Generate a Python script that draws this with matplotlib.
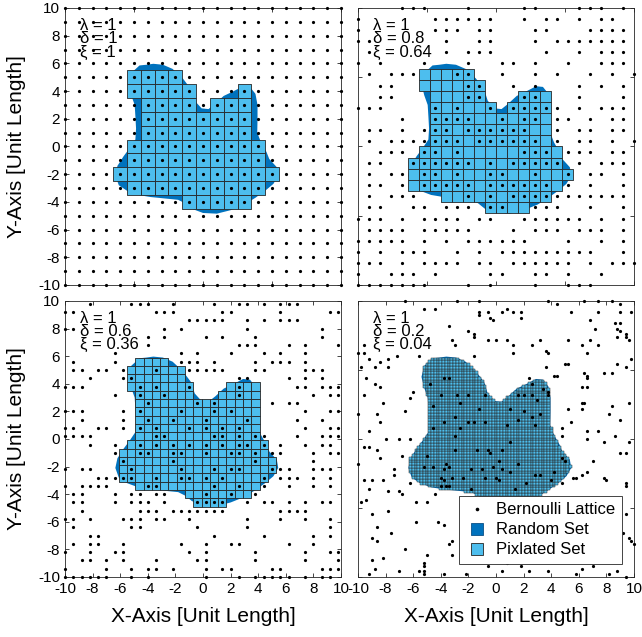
import numpy as np
import matplotlib
matplotlib.use('Agg')
import matplotlib.pyplot as plt
from matplotlib.path import Path
from matplotlib.patches import Polygon, Rectangle
from matplotlib.collections import PatchCollection
from matplotlib.lines import Line2D

plt.rcParams['font.family'] = ['Liberation Sans', 'DejaVu Sans']
plt.rcParams['axes.unicode_minus'] = False

DARK = '#0072BD'
LIGHT = '#4DBEEE'

# outline of the random set (same in every panel)
blob_x = [-3.6, -2.9, -2.2, -1.45, -0.85, -0.6, -0.1, 0.4, 0.9, 1.5, 2.2, 2.9, 3.4,
          3.8, 3.95, 3.95, 3.93, 4.2, 4.6, 4.8, 5.35, 5.45, 5.1, 4.5, 3.8, 3.0, 2.0,
          1.0, 0.0, -0.8, -1.3, -1.8, -2.8, -3.8, -4.7, -5.5, -6.1, -6.35, -6.2,
          -5.75, -5.3, -4.9, -4.85, -4.9, -4.95, -5.2, -5.4, -5.2, -4.6, -4.1]
blob_y = [5.97, 5.9, 5.6, 4.9, 4.1, 3.3, 2.75, 2.7, 3.1, 3.65, 3.98, 4.35, 4.3,
          3.8, 3.0, 2.0, 1.0, 0.3, -0.4, -0.9, -1.5, -2.1, -2.7, -3.2, -3.7, -4.2,
          -4.6, -4.85, -4.8, -4.5, -4.1, -3.85, -3.75, -3.65, -3.5, -3.2, -2.8,
          -2.1, -1.4, -0.7, -0.1, 0.5, 1.3, 2.2, 3.0, 3.7, 4.5, 5.3, 5.85, 5.9]

lam_txt = ['1', '1', '1', '1']
delta = [1, 0.8, 0.6, 0.2]
delta_txt = ['1', '0.8', '0.6', '0.2']
xi_txt = ['1', '0.64', '0.36', '0.04']

# kept lattice columns per row (top row first), delta = 0.8
kept_08 = [
    [4, 5, 6, 10, 15, 16, 20, 21, 22, 24],
    [0, 7, 8, 9, 10, 11, 12, 15, 17, 18, 20, 22, 23],
    [0, 7, 8, 9, 11, 12, 16, 17, 21, 22, 23, 24],
    [0, 1, 8, 11, 12, 16, 18, 19, 20, 21, 22, 23, 24],
    [1, 8, 10, 11, 12, 17, 20, 22, 23, 24],
    [0, 2, 6, 10, 13, 14, 16, 19, 22, 23, 24],
    [1, 3, 4, 5, 9, 10, 13, 16, 18, 21, 23, 25],
    [2, 3, 10, 11, 14, 16, 20, 22, 24],
    [2, 3, 10, 11, 15, 16, 20, 24],
    [0, 1, 2, 7, 9, 12, 14, 15, 16, 17, 18, 20, 22, 23, 24],
    [4, 7, 8, 9, 10, 13, 15, 16, 18, 19, 21, 23, 24],
    [1, 2, 4, 6, 7, 8, 10, 11, 12, 13, 14, 15, 18, 20, 21, 23, 24],
    [1, 3, 4, 5, 6, 7, 8, 9, 11, 12, 13, 14, 15, 16, 18, 20, 21, 23, 25],
    [2, 3, 4, 6, 7, 9, 15, 16, 17, 19, 20, 21, 23, 24],
    [1, 2, 5, 6, 7, 8, 9, 10, 12, 14, 15, 16, 17, 18, 20, 22, 23, 24],
    [1, 3, 4, 6, 7, 9, 12, 13, 16, 19, 21, 22, 24],
    [1, 2, 4, 6, 7, 8, 9, 10, 12, 13, 14, 15, 16, 17, 19, 21, 24],
    [1, 3, 4, 5, 10, 12, 14, 15, 16, 17, 18, 19, 20, 21, 22, 23, 24],
    [1, 2, 5, 6, 8, 9, 10, 12, 13, 16, 17, 18, 21, 24],
    [0, 1, 2, 4, 6, 7, 8, 9, 11, 12, 15, 16, 17, 18, 19, 20, 22, 24],
    [1, 2, 3, 4, 6, 7, 8, 9, 10, 14, 16, 17, 18, 20, 21, 22, 24],
    [0, 1, 2, 3, 4, 6, 8, 10, 11, 12, 13, 14, 15, 19, 22, 24],
    [0, 2, 4, 5, 6, 9, 11, 13, 14, 15, 16, 17, 18, 19, 20, 21, 24],
    [0, 1, 2, 4, 6, 7, 8, 9, 11, 12, 14, 15, 16, 17, 18, 19, 21, 23, 24, 25],
    [0, 3, 4, 5, 7, 12, 13, 16, 17, 19, 22],
    [0, 1, 2, 3, 4, 5, 6, 10, 12, 16, 19, 20, 21],
]

# kept lattice columns per row (top row first), delta = 0.6
kept_06 = [
    [3, 8, 9, 10, 13, 18, 21, 22, 24, 26, 27, 28],
    [0, 1, 11, 12, 13, 19, 20, 26, 32, 33],
    [15, 16, 17, 18, 19, 22, 24, 26, 27, 28],
    [0, 1, 12, 14, 22, 31],
    [10, 12, 17, 19, 23, 31],
    [10, 21, 22, 23, 27, 29, 33],
    [6, 14, 16, 20, 24, 26, 29],
    [1, 6, 14, 15, 16, 18, 23, 25, 26, 27, 29],
    [1, 2, 4, 5, 7, 11, 15, 16, 17, 18, 19, 23, 24, 29, 30, 31],
    [3, 7, 8, 21, 22, 27, 29, 31],
    [0, 1, 2, 9, 11, 15, 21, 28, 29, 31, 32, 33],
    [6, 9, 12, 21, 30, 32, 33],
    [10, 16, 18, 25, 27, 28],
    [0, 1, 2, 7, 9, 14, 18, 20, 29, 32, 33],
    [2, 7, 10, 13, 17, 22, 28, 31],
    [0, 1, 4, 5, 7, 9, 11, 15, 17, 19, 21, 29, 32, 33],
    [0, 1, 2, 3, 11, 12, 18, 19, 21, 23, 24, 28, 31, 32, 33],
    [3, 6, 9, 11, 13, 15, 17, 19, 21, 22, 24, 26, 29, 31, 32],
    [6, 9, 10, 13, 14, 17, 20, 21, 23, 25, 26, 30, 32, 33],
    [7, 13, 23, 30],
    [0, 2, 3, 8, 14, 18, 20, 21, 25, 26, 27, 30, 31, 32],
    [4, 5, 6, 7, 8, 11, 14, 15, 17, 19, 24, 26, 27, 28, 30, 32],
    [0, 2, 3, 4, 5, 10, 11, 18, 21, 24, 27, 30, 32],
    [1, 2, 6, 8, 9, 11, 12, 17, 20, 23],
    [1, 2, 6, 8, 9, 10, 12, 16, 17, 18, 19, 22, 24, 25, 27, 29, 31, 32],
    [2, 9, 10, 11, 13, 14, 15, 16, 17, 18, 19, 26, 27, 28, 29],
    [0, 1, 3, 7, 8, 9, 11, 12, 15, 22, 26, 29, 32],
    [1, 8, 9, 16, 22, 32],
    [3, 4, 18, 24, 30, 32],
    [1, 3, 4, 7, 14, 17, 20, 21, 27, 30],
    [0, 3, 6, 7, 15, 17, 23, 29, 32, 33],
    [2, 3, 5, 7, 11, 16, 17, 23, 29, 33],
    [0, 5, 8, 10, 11, 13, 17, 19, 20, 25, 26, 31, 32, 33],
    [0, 1, 2, 3, 4, 5, 8, 10, 17, 21, 23, 24, 25, 26, 27, 29, 31, 32],
]

# kept lattice points, delta = 0.2
pts_02_x = [-6.6, -2.8, -1.2, 3.8, 4.4, 6.4, 7.4, 8.4, 9.0, -5.2, -4.4, -1.2, -1.2, -0.6,
            -0.4, 0.4, 0.8, 1.2, 1.8, 5.4, 7.4, 9.0, 9.8, -0.2, 1.8, 6.8, 8.6, 9.0, -3.4,
            7.2, 8.8, 9.0, 9.4, -2.0, -1.6, -1.6, -3.2, -0.6, 0.0, 0.8, 3.2, 5.2, 6.8,
            8.8, 9.4, 9.6, -9.6, -3.0, 1.2, 2.6, 3.6, 6.2, 7.4, -10.0, -9.6, -9.2, -8.4,
            -7.8, -7.2, -5.6, -1.6, 1.2, 3.8, 5.0, 5.2, 6.6, 9.8, 9.4, -9.8, -8.8, -7.8,
            3.6, 4.2, 4.4, 6.4, 6.6, 6.6, 7.8, 8.4, 8.8, -9.4, -8.8, -8.4, -6.0, -4.8,
            -3.8, -3.4, 2.4, 2.6, 3.4, 3.8, 6.2, 6.6, -9.6, -8.2, -6.2, -4.0, -2.8, -2.0,
            -0.8, 1.6, 2.0, 2.6, 3.0, 3.8, 6.2, 6.4, 8.4, 9.6, -10.0, -8.6, -6.6, -4.6,
            -2.6, -1.2, 1.0, 2.0, 3.2, 5.2, 6.2, 8.2, 9.0, -8.4, -3.8, -3.0, -2.0, -1.6,
            -0.8, -2.6, 0.8, 1.6, 2.6, 2.8, 5.4, 4.8, 6.6, 7.4, -9.2, -4.6,
            -8.0, -7.0, -6.2, -3.0, 1.0, 4.8, 6.6, 7.8, 8.6, 9.6, -9.6, -9.2, -8.6, -5.0,
            -3.0, -1.4, -0.6, -0.4, 0.4, 9.0, 9.4, -8.4, -6.8, -4.6, -3.6, 0.2, 1.6, 4.8,
            5.0, 7.0, -10.0, -7.4, -7.4, -5.2, -3.8, -3.4, -1.8, -1.0, -0.2, 0.4, 1.0,
            2.8, 3.2, 4.2, 5.6, 6.2, 6.6, -9.6, -9.0, -8.2, -6.2, -4.0, -3.8, -3.2, -2.4,
            -0.8, 0.0, 0.2, 2.2, 4.0, 4.8, 5.8, 7.8, 8.0, 9.4, -9.2, -7.8, -7.0, -6.8,
            -4.4, -4.0, -3.6, -3.4, -1.8, 1.4, 9.4, -9.8, -9.4, -7.8, -5.8, -5.0, -9.0,
            9.4, -8.6, -7.6, -5.8, -4.2, -3.8, 9.2, -9.0, -8.6, -3.4, -3.2, 9.6, 9.8,
            10.0, -6.6, -5.0, -3.2, -9.0, -8.2, -5.2, -5.2, -0.6, 0.8, 1.8, 6.2, 7.0,
            -9.2, -8.8, -7.0, -5.6, -5.2, -5.2, -3.8, -2.2, 0.4, 2.4, 3.8, 5.8, 8.2,
            8.8, 9.4]
pts_02_y = [10.0, 10.0, 10.0, 10.0, 9.8, 10.0, 10.0, 10.0, 9.8, 9.4, 9.4, 9.2, 9.0, 9.2,
            8.8, 9.2, 9.4, 9.2, 9.2, 9.2, 9.2, 9.2, 9.2, 8.6, 8.8, 8.6, 8.4, 8.4, 8.2,
            8.0, 8.0, 7.8, 7.6, 7.8, 7.6, 7.4, 7.2, 7.2, 7.2, 7.2, 7.2, 7.2, 7.2,
            7.4, 7.4, 7.2, 6.8, 6.8, 6.8, 6.8, 6.4, 6.8, 6.8, 6.2, 6.2, 5.8, 5.6,
            5.8, 6.0, 6.0, 6.0, 6.2, 6.2, 5.4, 5.4, 6.2, 5.8, 5.2, 5.2, 5.2, 5.2,
            5.2, 4.6, 4.6, 4.8, 4.6, 4.4, 4.8, 4.8, 5.4, 4.4, 4.0, 3.8, 3.4, 4.0,
            4.4, 4.4, 4.4, 4.0, 3.6, 3.2, 3.8, 3.8, 3.2, 2.6, 3.0, 3.2, 3.2, 3.2,
            3.2, 3.2, 3.2, 3.2, 2.8, 3.4, 2.6, 2.6, 2.4, 2.6, 1.8, 1.8, 2.0, 2.4,
            2.6, 2.2, 2.2, 2.0, 1.8, 2.2, 2.2, 1.8, 1.4, 1.2, 1.2, 1.6, 1.2, 1.2,
            1.2, 0.8, 1.0, 1.4, 1.6, 1.0, 1.2, 0.8, 0.6, 0.6, 0.6, 0.8,
            0.0, 0.0, 0.0, 0.2, -0.2, 0.2, 0.0, -0.2, 0.2, -0.2, -0.6, -0.6, -0.8, -1.2,
            -0.8, -0.8, -0.8, -1.0, -0.8, -1.0, -1.0, -1.4, -1.2, -2.0, -1.8, -1.6, -1.8, -1.4,
            -1.6, -1.6, -1.8, -2.2, -2.6, -2.0, -2.2, -2.0, -2.2, -2.2, -2.0, -2.2, -2.4,
            -2.6, -2.6, -2.4, -2.8, -2.6, -2.4, -3.0, -3.0, -3.0, -3.2, -2.8, -3.0, -2.8, -2.8,
            -2.8, -2.8, -3.0, -3.2, -3.0, -3.2, -2.8, -2.8, -3.0, -3.2, -3.6, -3.8, -3.8, -4.0,
            -4.0, -3.4, -3.4, -3.4, -3.6, -3.6, -3.4, -4.6, -4.4, -5.2, -4.6, -4.6, -5.4,
            -5.4, -6.4, -6.8, -6.0, -6.0, -6.2, -6.8, -7.2, -7.4, -7.6, -7.4, -7.2, -7.4,
            -7.6, -8.0, -8.4, -8.4, -8.8, -8.6, -9.0, -9.2, -9.2, -9.0, -9.2, -9.4, -9.2,
            -9.8, -9.4, -9.6, -9.6, -9.6, -9.8, -9.8, -9.8, -9.6, -9.6, -9.6, -9.8, -9.8,
            -9.6, -10.0]


def lattice(d):
    n = int(round(20 / d))
    return -10 + d * np.arange(n + 1)


def kept_points(d, rows):
    grid = lattice(d)
    xs, ys = [], []
    for r, cols in enumerate(rows):
        y = grid[len(grid) - 1 - r]
        for c in cols:
            xs.append(grid[c])
            ys.append(y)
    return xs, ys


def draw_panel(ax, d, px, py, k, grid_lw):
    outline = np.column_stack([blob_x, blob_y])
    ax.add_patch(Polygon(outline, closed=True, facecolor=DARK, edgecolor='none', zorder=1))

    g = lattice(d)
    gx, gy = np.meshgrid(g, g)
    centers = np.column_stack([gx.ravel(), gy.ravel()])
    inside = Path(outline).contains_points(centers)
    cells = [Rectangle((cx - d / 2, cy - d / 2), d, d) for cx, cy in centers[inside]]
    ax.add_collection(PatchCollection(cells, facecolor=LIGHT, edgecolor='#262626',
                                      linewidth=grid_lw, zorder=2))

    ax.plot(px, py, 'o', color='k', markersize=2.3, markeredgewidth=0,
            clip_on=False, zorder=4)

    # stacked parameter labels, tight like the original
    ax.text(-8.9, 8.4, 'λ = ' + lam_txt[k], fontsize=12, zorder=3)
    ax.text(-8.9, 7.45, 'δ = ' + delta_txt[k], fontsize=12, zorder=3)
    ax.text(-8.9, 6.5, 'ξ = ' + xi_txt[k], fontsize=12, zorder=3)

    ax.set_xlim(-10, 10)
    ax.set_ylim(-10, 10)
    for s in ax.spines.values():
        s.set_color('#262626')
        s.set_linewidth(0.6)
    ax.tick_params(direction='in', top=True, right=True, length=3, width=0.6,
                   labelsize=11, colors='#262626', labelcolor='k')


fig = plt.figure(figsize=(6.42, 6.37), dpi=100)
ax1 = fig.add_axes([0.1012, 0.5526, 0.430, 0.4349])
ax2 = fig.add_axes([0.5576, 0.5526, 0.430, 0.4349])
ax3 = fig.add_axes([0.1012, 0.0942, 0.430, 0.4333])
ax4 = fig.add_axes([0.5576, 0.0942, 0.430, 0.4333])

g1 = lattice(1)
fx, fy = np.meshgrid(g1, g1)
draw_panel(ax1, delta[0], fx.ravel(), fy.ravel(), 0, 0.6)
x2, y2 = kept_points(delta[1], kept_08)
draw_panel(ax2, delta[1], x2, y2, 1, 0.6)
x3, y3 = kept_points(delta[2], kept_06)
draw_panel(ax3, delta[2], x3, y3, 2, 0.6)
draw_panel(ax4, delta[3], pts_02_x, pts_02_y, 3, 0.35)

two = np.arange(-10, 11, 2)
five = np.arange(-10, 11, 5)
ax1.set_yticks(two)
ax1.set_xticks(five)
ax1.tick_params(labelbottom=False)
ax2.set_xticks(five)
ax2.set_yticks(five)
ax2.tick_params(labelbottom=False, labelleft=False)
ax3.set_xticks(two)
ax3.set_yticks(two)
ax4.set_xticks(two)
ax4.set_yticks(five)
ax4.tick_params(labelleft=False)

for ax in (ax1, ax3):
    ax.set_ylabel('Y-Axis [Unit Length]', fontsize=15)
    ax.yaxis.set_label_coords(-0.14, 0.5)
for ax in (ax3, ax4):
    ax.set_xlabel('X-Axis [Unit Length]', fontsize=15)
    ax.xaxis.set_label_coords(0.5, -0.11)

handles = [
    Line2D([], [], marker='o', ls='none', color='k', markersize=2.6, markeredgewidth=0),
    Line2D([], [], marker='s', ls='none', markerfacecolor=DARK, markeredgecolor='#0b4f85',
           markersize=8, markeredgewidth=0.6),
    Line2D([], [], marker='s', ls='none', markerfacecolor=LIGHT, markeredgecolor='#262626',
           markersize=8, markeredgewidth=0.6),
]
leg = ax4.legend(handles, ['Bernoulli Lattice', 'Random Set', 'Pixlated Set'],
                 loc='lower right', bbox_to_anchor=(0.957, 0.047), fontsize=12,
                 frameon=True, fancybox=False, framealpha=1, edgecolor='#262626',
                 borderpad=0.4, handlelength=1.4, handletextpad=0.45,
                 labelspacing=0.3, borderaxespad=0)
leg.get_frame().set_linewidth(0.6)
leg.set_zorder(10)

fig.savefig('out.png', dpi=100)
